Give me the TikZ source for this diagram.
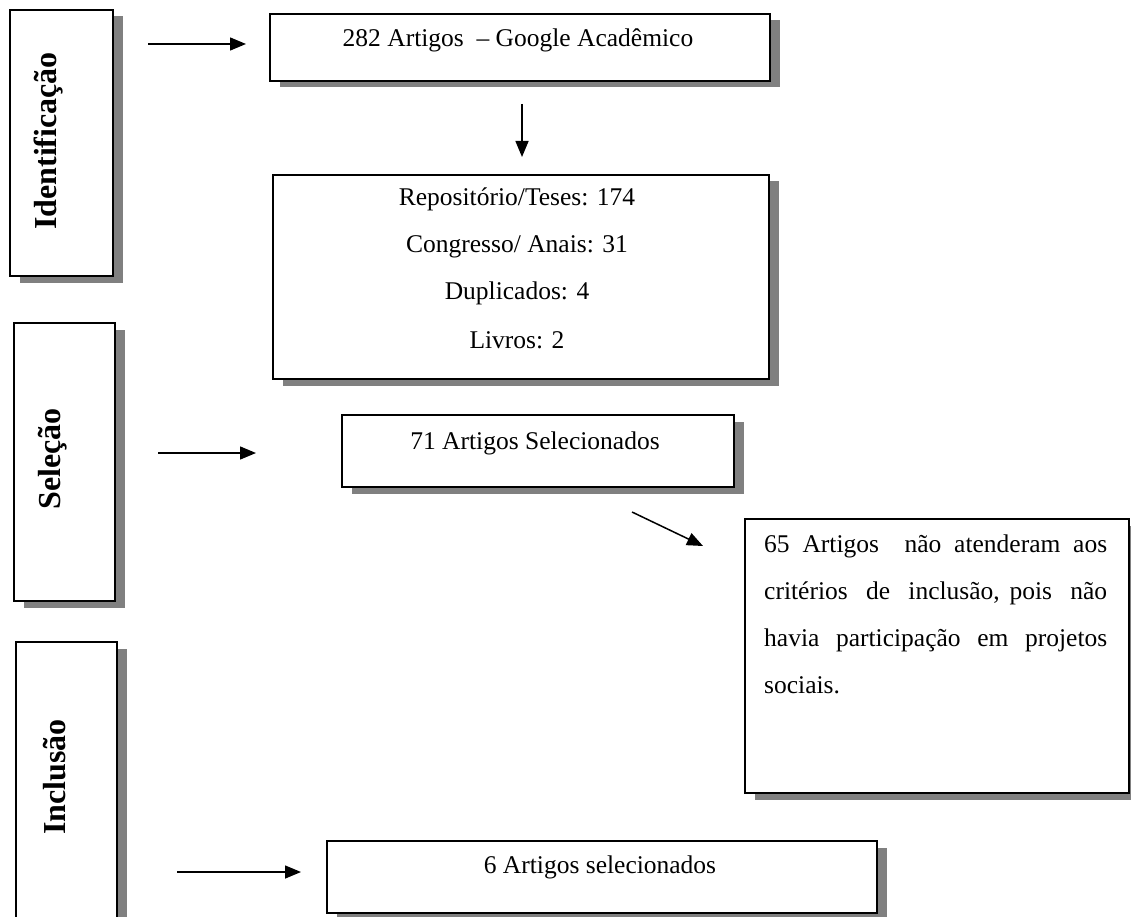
\documentclass[tikz,border=0pt]{standalone}
\usepackage{fontspec}
\setmainfont{Liberation Serif}
\usetikzlibrary{arrows.meta,shadows}
\begin{document}
\begin{tikzpicture}[x=1pt,y=-1pt,
  box/.style={draw=black, line width=1.4pt, fill=white, inner sep=0pt,
    drop shadow={shadow xshift=9.5pt, shadow yshift=-6.5pt, fill=black!50, opacity=1}},
  lbl/.style={rotate=90, font=\fontsize{32}{36}\selectfont\bfseries, inner sep=0pt},
  txt/.style={font=\fontsize{25.5}{30}\selectfont, inner sep=0pt},
  arr/.style={line width=1.5pt, -{Triangle[length=16pt,width=13pt]}}]
\useasboundingbox (0,0) rectangle (1131,917);
\fill[white] (0,0) rectangle (1131,917);
% stage boxes
\node[box, minimum width=103pt, minimum height=266pt] (idf) at (61.5,143) {};
\node[box, minimum width=101pt, minimum height=278pt] (sel) at (64.5,462) {};
\node[box, minimum width=101pt, minimum height=320pt] (inc) at (66.5,802) {};
\node[lbl] (idft) at (49,141) {Identificação};
\node[lbl] (selt) at (53,459) {Seleção};
\node[lbl] (inct) at (55,777) {Inclusão};
% content boxes
\node[box, minimum width=500pt, minimum height=67pt] (b1) at (520,47.5) {};
\node[txt] (b1t) at (518,40) {282 Artigos \ – Google Acadêmico};
\node[box, minimum width=496pt, minimum height=204pt] (b2) at (521,277) {};
\node[txt] (b2a) at (517,199) {Repositório/Teses: 174};
\node[txt] (b2b) at (517,247) {Congresso/ Anais: 31};
\node[txt] (b2c) at (517,293) {Duplicados: 4};
\node[txt] (b2d) at (517,340) {Livros: 2};
\node[box, minimum width=392pt, minimum height=72pt] (b3) at (538,451) {};
\node[txt] (b3t) at (535,443) {71 Artigos Selecionados};
\node[box, minimum width=384pt, minimum height=274pt] (b4) at (937,656) {};
\node[txt, anchor=base west] (b4t) at (764,552) {\parbox[t]{343pt}{\fontsize{25.5}{47}\selectfont
  65 Artigos \ não atenderam aos\linebreak
  critérios \ de \ inclusão, pois \ não\linebreak
  havia participação em projetos\linebreak
  sociais.}};
\node[box, minimum width=550pt, minimum height=72pt] (b5) at (602,877) {};
\node[txt] (b5t) at (600,867) {6 Artigos selecionados};
% arrows
\coordinate (a1s) at (148,44);  \coordinate (a1e) at (246,44);
\coordinate (a2s) at (522,104); \coordinate (a2e) at (522,157);
\coordinate (a3s) at (158,453); \coordinate (a3e) at (256,453);
\coordinate (a4s) at (632,512); \coordinate (a4e) at (703,546);
\coordinate (a5s) at (177,872); \coordinate (a5e) at (301,872);
\draw[arr] (a1s) -- (a1e);
\draw[arr] (a2s) -- (a2e);
\draw[arr] (a3s) -- (a3e);
\draw[arr] (a4s) -- (a4e);
\draw[arr] (a5s) -- (a5e);
\end{tikzpicture}
\end{document}
